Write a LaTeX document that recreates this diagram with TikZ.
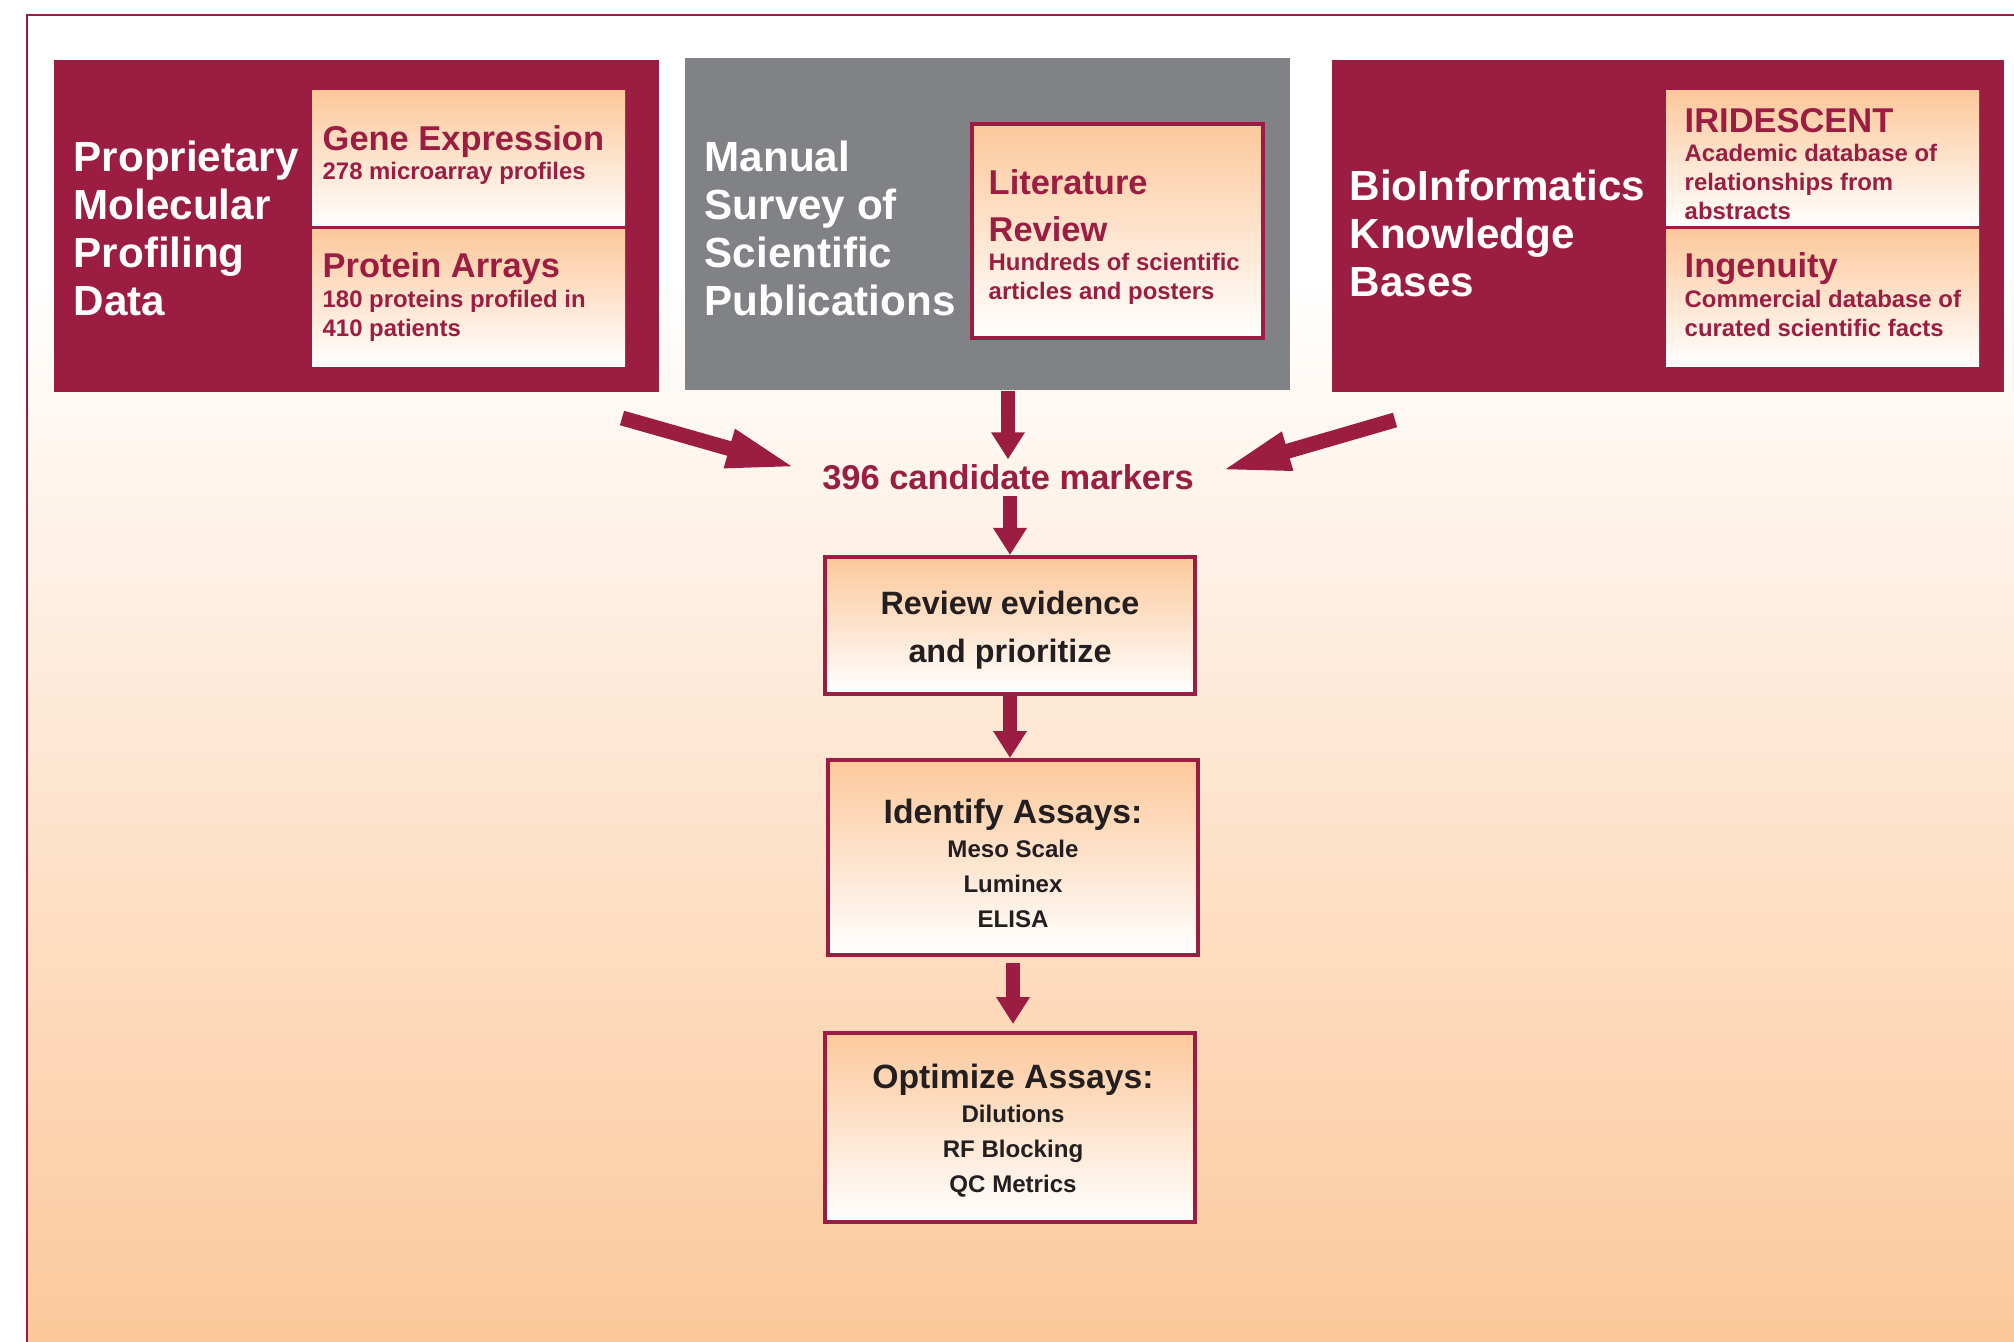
\documentclass[tikz,border=0pt]{standalone}
\usepackage{fontspec}
\setmainfont{Liberation Sans}
\usetikzlibrary{arrows.meta,fit}
\definecolor{crimson}{RGB}{155,30,66}
\definecolor{slate}{RGB}{128,130,133}
\definecolor{peach}{RGB}{252,200,155}
\definecolor{ink}{RGB}{35,31,32}
\pgfdeclareverticalshading{bgfade}{100bp}{color(0bp)=(peach); color(25bp)=(peach); color(65bp)=(white); color(100bp)=(white)}
\tikzset{
  panel/.style={inner sep=0pt, fill=#1},
  subbox/.style={inner sep=0pt, top color=peach, bottom color=white},
  stepbox/.style={inner sep=0pt, draw=crimson, line width=0.4mm, top color=peach, bottom color=white},
  title/.style={anchor=base west, inner sep=0pt, align=left, text=white, font=\fontsize{12}{13.7}\selectfont\bfseries},
  head/.style={anchor=base west, inner sep=0pt, align=left, text=crimson, font=\fontsize{9.8}{13.4}\selectfont\bfseries},
  body/.style={anchor=base west, inner sep=0pt, align=left, text=crimson, font=\fontsize{6.8}{8.3}\selectfont\bfseries},
  stephead/.style={anchor=base, inner sep=0pt, align=center, text=ink, font=\fontsize{9.6}{13.7}\selectfont\bfseries},
  stepitem/.style={anchor=base, inner sep=0pt, text=ink, font=\fontsize{6.85}{8}\selectfont\bfseries},
  bigarrow/.style={-{Triangle[length=7mm,width=3.6mm]}, line width=1.5mm, crimson},
  downarrow/.style={-{Triangle[length=2.7mm,width=3.2mm]}, line width=1.4mm, crimson},
}
\begin{document}
\begin{tikzpicture}[x=0.1mm,y=-0.1mm]
  \useasboundingbox (0,0) rectangle (2014,1342);
  % background and frame
  \shade[shading=bgfade] (27,15) rectangle (2014,1342);
  \draw[crimson,line width=0.25mm] (2014,15) -- (27,15) -- (27,1342);
  % sources (multi-line texts sit on their last baseline)
  \node[panel=crimson, fit={(54,60) (659,392)}] (prop) {};
  \node[panel=slate, fit={(685,58) (1290,390)}] (manual) {};
  \node[panel=crimson, fit={(1332,60) (2004,392)}] (bioinf) {};
  \node[title] (prop-t) at (73,316) {Proprietary\\Molecular\\Profiling\\Data};
  \node[title] (manual-t) at (704,316) {Manual\\Survey of\\Scientific\\Publications};
  \node[title] (bioinf-t) at (1349,297) {BioInformatics\\Knowledge\\Bases};
  % inner boxes
  \node[subbox, fit={(312,91) (625,226)}] (gene) {};
  \node[subbox, fit={(312,230) (625,367)}] (prot) {};
  \node[stepbox, line width=0.35mm, fit={(972,124) (1263,338)}] (lit) {};
  \node[subbox, fit={(1666,91) (1979,226)}] (irid) {};
  \node[subbox, fit={(1666,230) (1979,367)}] (ingen) {};
  \node[head] (gene-h) at (322,151) {Gene Expression};
  \node[body] (gene-t) at (322,180) {278 microarray profiles};
  \node[head] (prot-h) at (322,278) {Protein Arrays};
  \node[body] (prot-t) at (322,337) {180 proteins profiled in\\410 patients};
  \node[head] (lit-h) at (988,242) {Literature\\Review};
  \node[body, font=\fontsize{6.8}{8.5}\selectfont\bfseries] (lit-t) at (988,300) {Hundreds of scientific\\articles and posters};
  \node[head] (irid-h) at (1684,133) {IRIDESCENT};
  \node[body] (irid-t) at (1684,220) {Academic database of\\relationships from\\abstracts};
  \node[head] (ingen-h) at (1684,278) {Ingenuity};
  \node[body] (ingen-t) at (1684,337) {Commercial database of\\curated scientific facts};
  % candidates
  \node[anchor=base, inner sep=0pt, text=crimson, font=\fontsize{9.8}{12}\selectfont\bfseries] (mk) at (1008,490) {396 candidate markers};
  % steps
  \node[stepbox, fit={(825,557) (1195,694)}] (review) {};
  \node[stepbox, fit={(828,760) (1198,955)}] (ident) {};
  \node[stepbox, fit={(825,1033) (1195,1222)}] (optim) {};
  \node[stephead, font=\fontsize{9.2}{13.7}\selectfont\bfseries] (review-t) at (1010,663) {Review evidence\\and prioritize};
  \node[stephead] (ident-t) at (1013,823) {Identify Assays:};
  \foreach \t [count=\i] in {Meso Scale,Luminex,ELISA}
    \node[stepitem] (ident-\i) at (1013,{823+34.7*\i}) {\t};
  \node[stephead] (optim-t) at (1013,1088) {Optimize Assays:};
  \foreach \t [count=\i] in {Dilutions,RF Blocking,QC Metrics}
    \node[stepitem] (optim-\i) at (1013,{1088+34.7*\i}) {\t};
  % arrows
  \coordinate (la) at (622,418);
  \coordinate (ra) at (1395,420);
  \draw[bigarrow] (la) -- ([shift={(-2.5mm,1mm)}]mk.west);
  \draw[bigarrow] (ra) -- ([shift={(2.6mm,0.7mm)}]mk.east);
  \draw[downarrow] (manual.south -| mk.north) -- ([yshift=0.5mm]mk.north);
  \draw[downarrow] ([yshift=-0.5mm]mk.south -| review.north) -- (review.north);
  \draw[downarrow] (review.south) -- (review.south |- ident.north);
  \draw[downarrow, shorten <=0.6mm, shorten >=0.7mm] (ident.south) -- (ident.south |- optim.north);
\end{tikzpicture}
\end{document}
